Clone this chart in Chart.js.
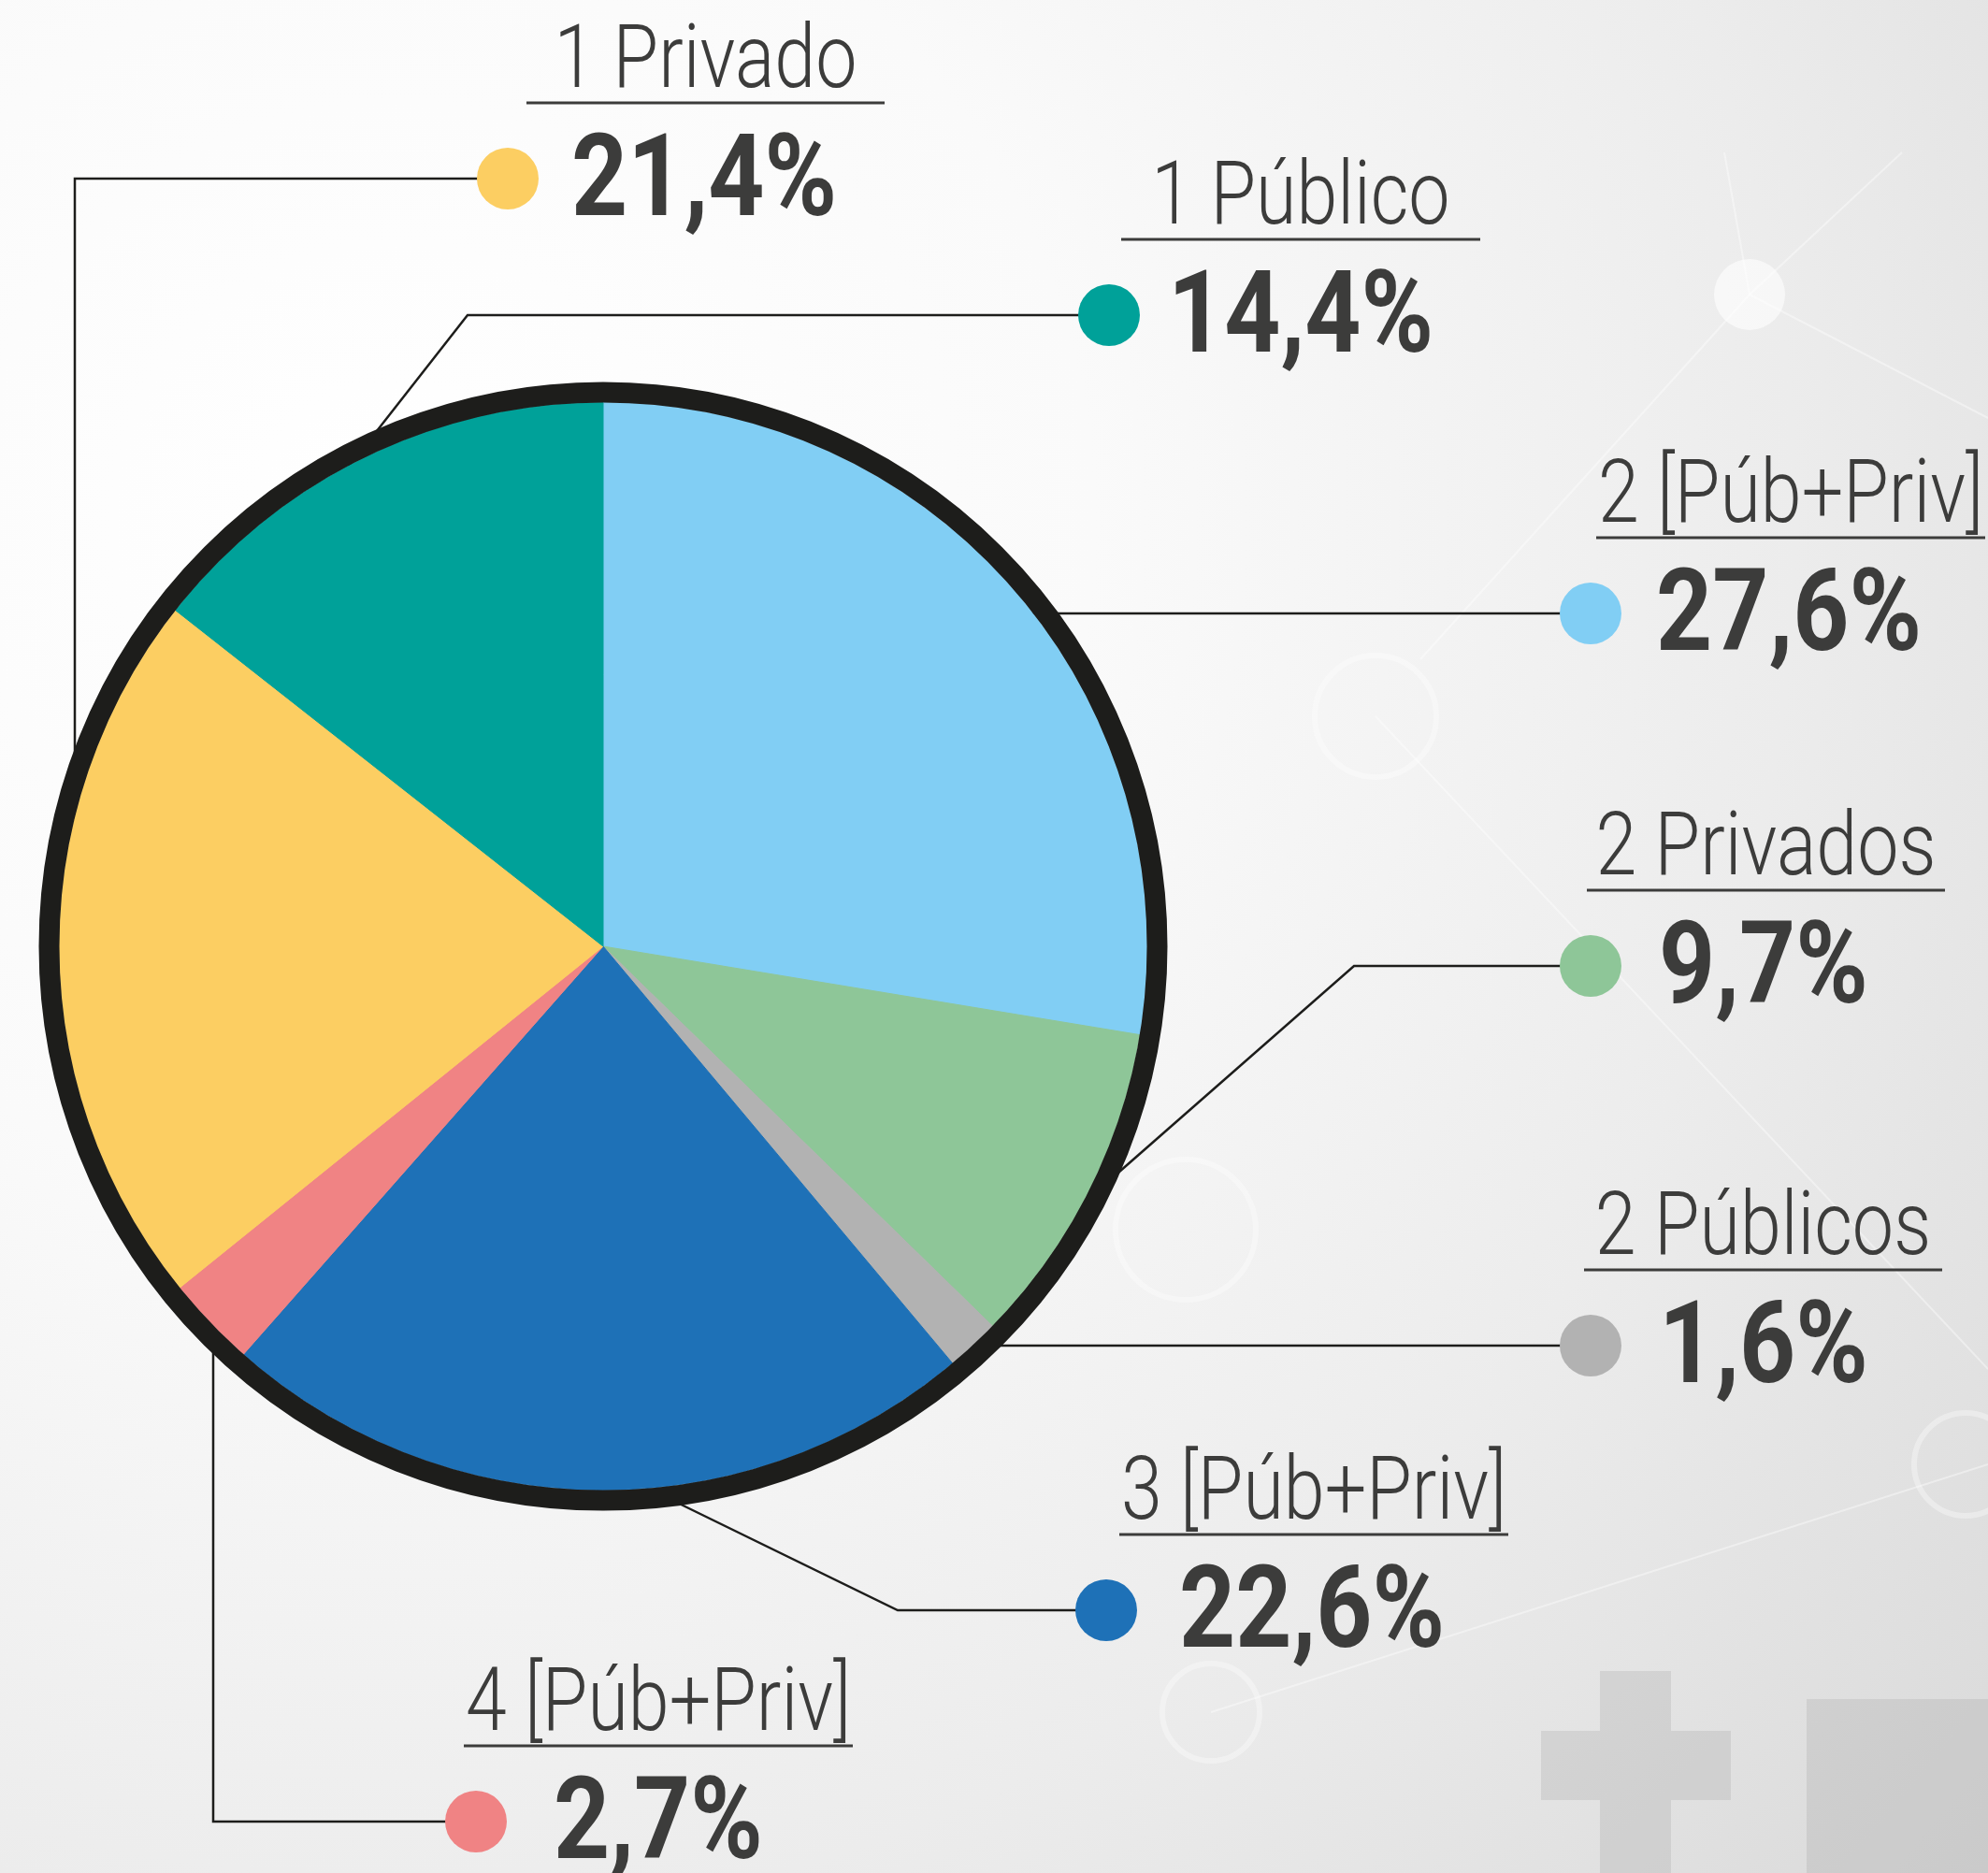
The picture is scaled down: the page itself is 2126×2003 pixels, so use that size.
<!DOCTYPE html>
<html lang="pt">
<head>
<meta charset="utf-8">
<title>Distribuição</title>
<script src="https://cdn.jsdelivr.net/npm/chart.js@4.4.1/dist/chart.umd.min.js"></script>
<style>
  html, body { margin: 0; padding: 0; background: #f4f4f4; }
  #chart { display: block; }
</style>
</head>
<body>
<canvas id="chart" width="2126" height="2003"></canvas>
<script>
// Slices, clockwise from 12 o'clock
const categories = ["2 [Púb+Priv]", "2 Privados", "2 Públicos", "3 [Púb+Priv]", "4 [Púb+Priv]", "1 Privado", "1 Público"];
const shares = [27.6, 9.7, 1.6, 22.6, 2.7, 21.4, 14.4];
const sliceColors = ["#81CEF4", "#8EC698", "#B2B2B2", "#1E71B7", "#F08384", "#FCCE62", "#00A199"];

const TEXT = "#3C3C3B";
const INK = "#1D1D1B";

// where each callout sits (dot centre, underline span, % text offset, leader path into the pie)
const callouts = [
  { dot: [1701, 656],  rule: [1707, 2123], dx: 70, path: [[1100, 656]] },
  { dot: [1701, 1033], rule: [1697, 2080], dx: 73, path: [[1448, 1033], [1180, 1268]] },
  { dot: [1701, 1439], rule: [1694, 2077], dx: 73, path: [[1040, 1439]] },
  { dot: [1183, 1722], rule: [1197, 1613], dx: 78, path: [[960, 1722], [710, 1600]] },
  { dot: [509, 1948],  rule: [496, 912],   dx: 83, path: [[228, 1948], [228, 1420]] },
  { dot: [543, 191],   rule: [563, 946],   dx: 68, path: [[80, 191], [80, 900]] },
  { dot: [1186, 337],  rule: [1199, 1583], dx: 63, path: [[500, 337], [370, 503]] }
];

function pct(v) {
  return v.toFixed(1).replace(".", ",") + "%";
}

function drawScaled(ctx, text, x, y, align, sx) {
  ctx.save();
  ctx.translate(x, y);
  ctx.scale(sx, 1);
  ctx.textAlign = align;
  ctx.fillText(text, 0, 0);
  ctx.restore();
}

// soft grey backdrop with faint network / cross shapes
const backdrop = {
  id: "backdrop",
  beforeDraw(chart) {
    const ctx = chart.ctx;
    const w = chart.width, h = chart.height;
    ctx.save();
    const g = ctx.createRadialGradient(420, 560, 0, 420, 560, 2500);
    g.addColorStop(0, "#ffffff");
    g.addColorStop(0.3, "#fafafa");
    g.addColorStop(0.6, "#ececec");
    g.addColorStop(1, "#d2d2d2");
    ctx.fillStyle = g;
    ctx.fillRect(0, 0, w, h);

    // crosses bottom right
    ctx.fillStyle = "rgba(150,150,150,0.22)";
    ctx.fillRect(1711, 1787, 76, 216);
    ctx.fillRect(1648, 1851, 63, 74);
    ctx.fillRect(1787, 1851, 64, 74);
    ctx.fillRect(1932, 1817, 194, 186);

    // network lines
    ctx.strokeStyle = "rgba(255,255,255,0.4)";
    ctx.lineWidth = 2;
    const segs = [
      [1871, 315, 1844, 163], [1871, 315, 2034, 163], [1871, 315, 2126, 447],
      [1871, 315, 1519, 705], [1471, 766, 2126, 1464], [1295, 1831, 2126, 1566]
    ];
    segs.forEach(s => {
      ctx.beginPath();
      ctx.moveTo(s[0], s[1]);
      ctx.lineTo(s[2], s[3]);
      ctx.stroke();
    });
    ctx.strokeStyle = "rgba(255,255,255,0.35)";
    ctx.lineWidth = 6;
    [[1471, 766, 65], [1268, 1315, 75], [1295, 1831, 52], [2102, 1566, 55]].forEach(c => {
      ctx.beginPath();
      ctx.arc(c[0], c[1], c[2], 0, Math.PI * 2);
      ctx.stroke();
    });
    ctx.fillStyle = "rgba(255,255,255,0.6)";
    ctx.beginPath();
    ctx.arc(1871, 315, 38, 0, Math.PI * 2);
    ctx.fill();
    ctx.restore();
  }
};

// leader lines go under the pie, ring + labels on top
const callout = {
  id: "callout",
  beforeDatasetsDraw(chart) {
    const ctx = chart.ctx;
    ctx.save();
    ctx.strokeStyle = INK;
    ctx.lineWidth = 2.5;
    callouts.forEach(c => {
      ctx.beginPath();
      ctx.moveTo(c.dot[0], c.dot[1]);
      c.path.forEach(p => ctx.lineTo(p[0], p[1]));
      ctx.stroke();
    });
    ctx.restore();
  },
  afterDatasetsDraw(chart) {
    const ctx = chart.ctx;
    const arc = chart.getDatasetMeta(0).data[0];
    ctx.save();
    // black rim
    ctx.strokeStyle = INK;
    ctx.lineWidth = 22;
    ctx.beginPath();
    ctx.arc(arc.x, arc.y, arc.outerRadius + 11, 0, Math.PI * 2);
    ctx.stroke();

    const labels = chart.data.labels;
    const values = chart.data.datasets[0].data;
    const colors = chart.data.datasets[0].backgroundColor;
    callouts.forEach((c, i) => {
      const [dx, dy] = c.dot;
      ctx.fillStyle = colors[i];
      ctx.beginPath();
      ctx.arc(dx, dy, 33, 0, Math.PI * 2);
      ctx.fill();

      const ruleY = dy - 81;
      ctx.strokeStyle = TEXT;
      ctx.lineWidth = 3;
      ctx.beginPath();
      ctx.moveTo(c.rule[0], ruleY);
      ctx.lineTo(c.rule[1], ruleY);
      ctx.stroke();

      ctx.fillStyle = TEXT;
      ctx.textBaseline = "alphabetic";
      ctx.font = "300 94px Roboto";
      drawScaled(ctx, labels[i], (c.rule[0] + c.rule[1]) / 2, ruleY - 17, "center", 0.84);

      ctx.font = "700 122px Roboto";
      drawScaled(ctx, pct(values[i]), dx + c.dx, dy + 39, "left", 0.86);
    });
    ctx.restore();
  }
};

new Chart(document.getElementById("chart"), {
  type: "pie",
  data: {
    labels: categories,
    datasets: [{
      data: shares,
      backgroundColor: sliceColors,
      borderColor: sliceColors,
      borderWidth: 1,
      hoverOffset: 0
    }]
  },
  options: {
    responsive: false,
    animation: false,
    rotation: 0,
    layout: { padding: { left: 63, right: 899, top: 430, bottom: 409 } },
    plugins: {
      legend: { display: false },
      tooltip: { enabled: false }
    }
  },
  plugins: [backdrop, callout]
});
</script>
</body>
</html>
